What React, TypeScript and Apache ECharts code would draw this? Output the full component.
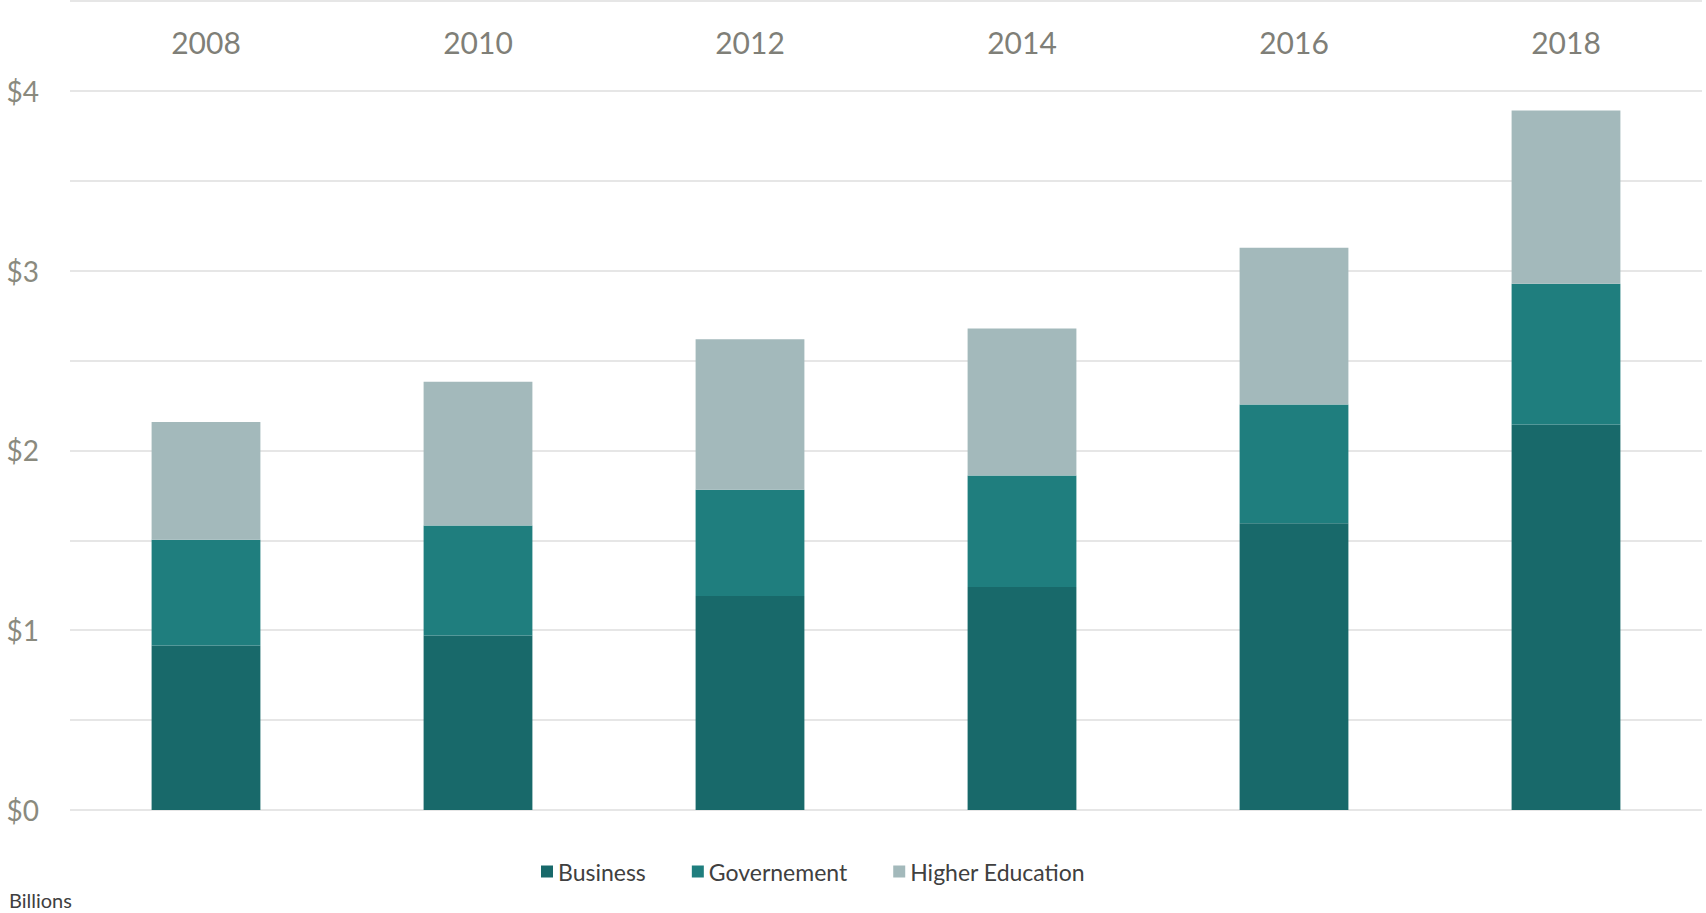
import React, { useEffect, useRef } from "react";
import * as echarts from "echarts";

const years = ["2008", "2010", "2012", "2014", "2016", "2018"];
const business = [0.915, 0.97, 1.19, 1.24, 1.595, 2.145];
const government = [0.588, 0.612, 0.592, 0.621, 0.66, 0.782];
const higherEducation = [0.655, 0.8, 0.836, 0.818, 0.872, 0.964];
const seriesNames = ["Business", "Governement", "Higher Education"];
const colors = ["#18696a", "#1f7e7e", "#a3b9bb"];

const FONT = "'Century Gothic', Lato, 'Noto Sans', sans-serif";

export default function App() {
  const ref = useRef<HTMLDivElement>(null);
  useEffect(() => {
    if (!ref.current) return;
    const chart = echarts.init(ref.current, null, { renderer: "svg" });
    const data = [business, government, higherEducation];
    chart.setOption({
      animation: false,
      backgroundColor: "#ffffff",
      textStyle: { fontFamily: FONT },
      grid: { left: 70, right: 4, top: 1, bottom: 103, containLabel: false },
      legend: {
        left: 536,
        top: 855,
        itemWidth: 12,
        itemHeight: 12,
        itemGap: 46,
        icon: "rect",
        textStyle: { fontSize: 23, color: "#404040", fontFamily: FONT },
        data: seriesNames,
      },
      xAxis: {
        type: "category",
        position: "top",
        data: years,
        axisLine: { show: false },
        axisTick: { show: false },
        axisLabel: {
          inside: true,
          margin: 26,
          fontSize: 30,
          color: "#7f7f78",
          fontFamily: FONT,
        },
      },
      yAxis: {
        type: "value",
        min: 0,
        max: 4.5,
        interval: 0.5,
        axisLine: { show: false },
        axisTick: { show: false },
        splitLine: { lineStyle: { color: "#dedede", width: 1.5 } },
        axisLabel: {
          margin: 31,
          fontSize: 28,
          color: "#8a8a7e",
          fontFamily: FONT,
          formatter: (v: number) => (Math.abs(v - Math.round(v)) < 1e-9 && v < 4.5 ? "$" + Math.round(v) : ""),
        },
      },
      graphic: [
        {
          type: "text",
          left: 9,
          top: 890,
          style: { text: "Billions", fontSize: 20, fill: "#404040", fontFamily: FONT },
        },
      ],
      series: seriesNames.map((name, i) => ({
        name,
        type: "bar",
        stack: "total",
        barWidth: "40%",
        itemStyle: { color: colors[i] },
        data: data[i],
      })),
    });
    return () => chart.dispose();
  }, []);
  return (
    <div
      ref={ref}
      style={{ position: "fixed", left: 0, top: 0, width: 1706, height: 913 }}
    />
  );
}
